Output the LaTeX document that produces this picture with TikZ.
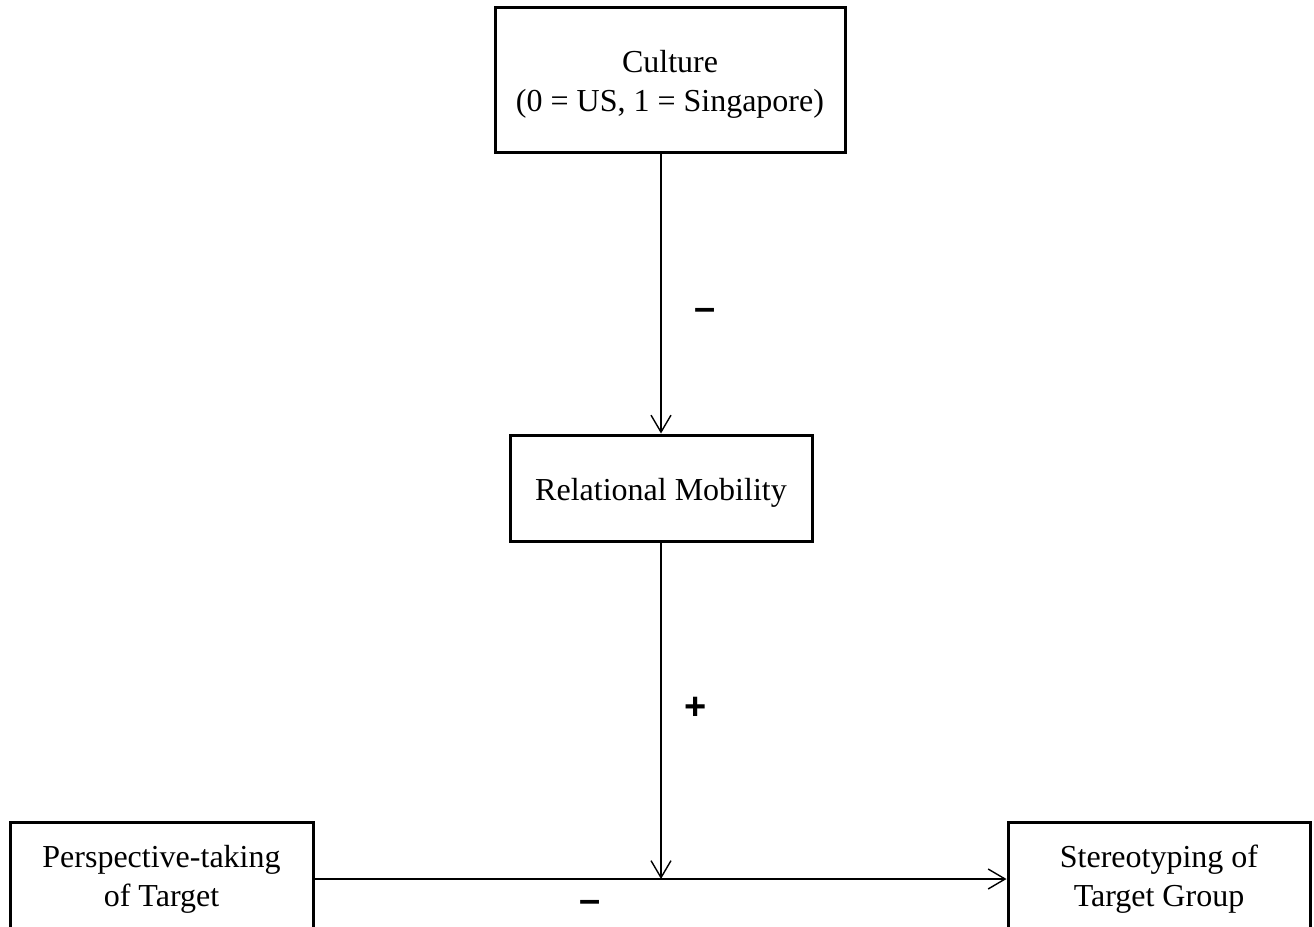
\documentclass[tikz,border=0pt]{standalone}
\usepackage{fontspec}
\setmainfont{Liberation Serif}
\newfontfamily\signfont{Liberation Sans}
\usetikzlibrary{arrows.meta}
\tikzset{
  box/.style={draw, line width=3pt, fill=white, inner sep=0pt},
  boxtext/.style={align=center, font=\fontsize{32}{39}\selectfont, inner sep=0pt},
  conn/.style={line width=1.4pt, -{Straight Barb[length=17pt,width=20pt,line width=1.4pt]}},
  sign/.style={font=\signfont\bfseries\fontsize{38}{42}\selectfont}
}
\begin{document}
\begin{tikzpicture}[x=1pt,y=-1pt]
\useasboundingbox (0,0) rectangle (1314,926);
\clip (0,0) rectangle (1314,926);
\node[box, minimum width=350pt, minimum height=145pt] (cult) at (670,79.5) {};
\node[box, minimum width=302pt, minimum height=106pt] (rm) at (661,488) {};
\node[box, minimum width=303pt, minimum height=108pt] (pt) at (161.5,876) {};
\node[box, minimum width=302pt, minimum height=108pt] (st) at (1159,876) {};
\node[boxtext] (cultT) at ([yshift=-5pt]cult.center) {Culture\\(0 = US, 1 = Singapore)};
\node[boxtext] (rmT) at ([yshift=-5pt]rm.center) {Relational Mobility};
\node[boxtext] (ptT) at ([yshift=-3pt]pt.center) {Perspective-taking\\of Target};
\node[boxtext] (stT) at ([yshift=-3pt]st.center) {Stereotyping of\\Target Group};
\coordinate (mid) at (661,879);
\draw[conn] (cult.south -| rm.north) -- (rm.north);
\draw[line width=1.4pt] (pt.east |- mid) -- (mid);
\draw[conn] (pt.east |- mid) -- (st.west |- mid);
\draw[conn] (rm.south) -- (mid);
\node[sign] (m1) at (705,314) {\textendash};
\node[sign] (p1) at (696,708) {+};
\node[sign] (m2) at (590,906) {\textendash};
\end{tikzpicture}
\end{document}
